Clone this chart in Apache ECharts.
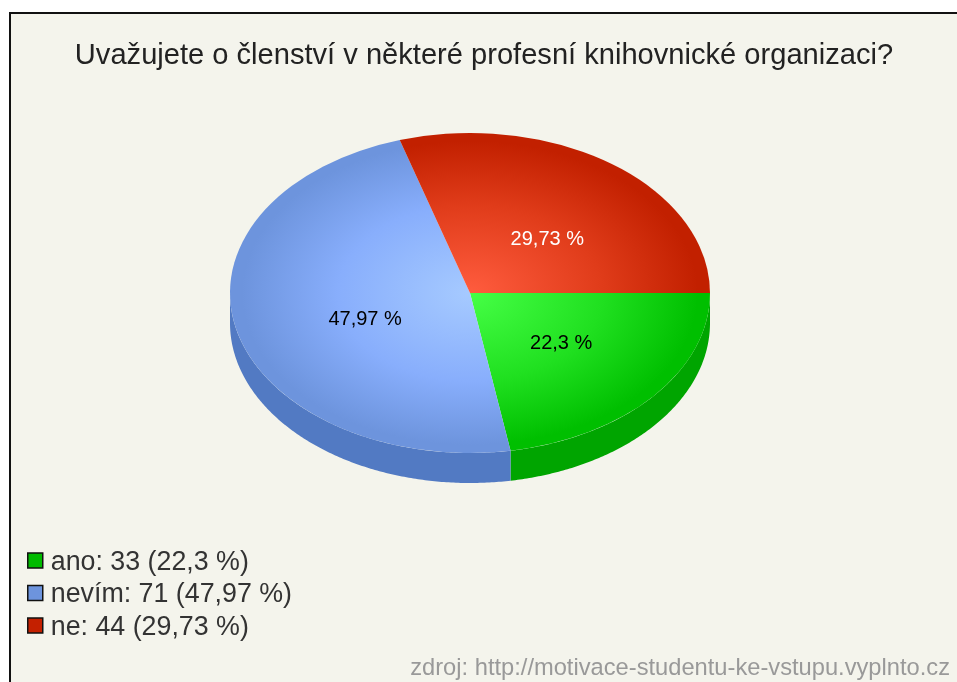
<!DOCTYPE html>
<html><head><meta charset="utf-8">
<style>html,body{margin:0;padding:0;background:#fff}#c{width:957px;height:682px;filter:blur(0.55px)}</style>
<script src="https://cdn.jsdelivr.net/npm/echarts@6/dist/echarts.min.js"></script>
</head><body><div id="c"></div>
<script>
const titleText = 'Uvažujete o členství v některé profesní knihovnické organizaci?';
const sourceText = 'zdroj: http://motivace-studentu-ke-vstupu.vyplnto.cz';
const categories = ['ano', 'nevím', 'ne'];
const counts = [33, 71, 44];
const percents = ['22,3', '47,97', '29,73'];

const swatches = ['#00bb00', '#6d94dd', '#c42000'];
const hubColors = ['#46ff46', '#a6caff', '#ff5c3e'];
const midColors = ['#20e020', '#88aefc', '#e03c1a'];
const rimColors = ['#00bf00', '#6d94dd', '#c22000'];
const sideColors = ['#00a500', '#527ac3', '#8f1700'];
const labelColors = ['#000', '#000', '#fff'];
const labelFractions = [[0.38, 0.315], [-0.437, 0.165], [0.322, -0.335]];
const pie = {cx: 470, cy: 293, rx: 240, ry: 160, depth: 30};
const fontFamily = '"Liberation Sans", Arial, sans-serif';

const total = counts.reduce((a, b) => a + b, 0);
const TAU = Math.PI * 2;
const startFractions = counts.map((_, i) => counts.slice(0, i).reduce((a, b) => a + b, 0) / total);

function sliceRenderer(i) {
  return function (params, api) {
    const a0 = startFractions[i] * TAU;
    const a1 = a0 + api.value(0) / total * TAU;
    const children = [];
    const s0 = Math.min(a0, Math.PI), s1 = Math.min(a1, Math.PI);
    if (s1 > s0) {
      const top = [], bottom = [];
      const n = Math.ceil((s1 - s0) / 0.01);
      for (let k = 0; k <= n; k++) {
        const t = s0 + (s1 - s0) * k / n;
        const x = pie.cx + pie.rx * Math.cos(t), y = pie.cy + pie.ry * Math.sin(t);
        top.push([x, y]);
        bottom.unshift([x, y + pie.depth]);
      }
      children.push({type: 'polygon', shape: {points: top.concat(bottom)}, style: {fill: sideColors[i]}});
    }
    children.push({
      type: 'sector',
      originX: pie.cx, originY: pie.cy, scaleY: pie.ry / pie.rx,
      shape: {cx: pie.cx, cy: pie.cy, r0: 0, r: pie.rx, startAngle: a0, endAngle: a1, clockwise: true},
      style: {fill: {
        type: 'radial', global: true, x: pie.cx, y: pie.cy, r: pie.rx,
        colorStops: [
          {offset: 0, color: hubColors[i]},
          {offset: 0.55, color: midColors[i]},
          {offset: 0.95, color: rimColors[i]}
        ]
      }}
    });
    children.push({
      type: 'text', z2: 10,
      style: {
        text: percents[i] + ' %',
        x: pie.cx + labelFractions[i][0] * pie.rx,
        y: pie.cy + labelFractions[i][1] * pie.ry,
        align: 'center', verticalAlign: 'middle',
        fill: labelColors[i], font: '20px ' + fontFamily
      }
    });
    return {type: 'group', children};
  };
}

const chart = echarts.init(document.getElementById('c'), null, {renderer: 'canvas'});
chart.setOption({
  animation: false,
  backgroundColor: '#ffffff',
  graphic: [{
    type: 'rect', z: -10, silent: true,
    shape: {x: 10, y: 13, width: 1000, height: 800},
    style: {fill: '#f4f4ec', stroke: '#111', lineWidth: 2}
  }],
  title: [
    {text: titleText, left: 479, top: 36, textAlign: 'center',
     textStyle: {fontFamily, fontSize: 29.1, fontWeight: 'normal', color: '#222'}},
    {text: sourceText, right: 2, top: 651,
     textStyle: {fontFamily, fontSize: 23.7, fontWeight: 'normal', color: '#999'}}
  ],
  legend: {
    orient: 'vertical', left: 22, top: 540, itemWidth: 15, itemHeight: 15, itemGap: 1.5,
    selectedMode: false,
    data: categories.map((name, i) => ({name, icon: 'rect', itemStyle: {color: swatches[i], borderColor: '#111', borderWidth: 1.5}})),
    formatter: name => { const i = categories.indexOf(name); return `{t|${name}: ${counts[i]} (${percents[i]} %)}`; },
    textStyle: {
      fontFamily, fontSize: 26.8, color: '#333',
      rich: {t: {fontFamily, fontSize: 26.8, lineHeight: 26, color: '#333', padding: [4, 0, 0, 3]}}
    }
  },
  series: categories.map((name, i) => ({
    type: 'custom', name, coordinateSystem: 'none', silent: true,
    itemStyle: {color: swatches[i]},
    data: [[counts[i]]],
    renderItem: sliceRenderer(i)
  }))
});
</script></body></html>
